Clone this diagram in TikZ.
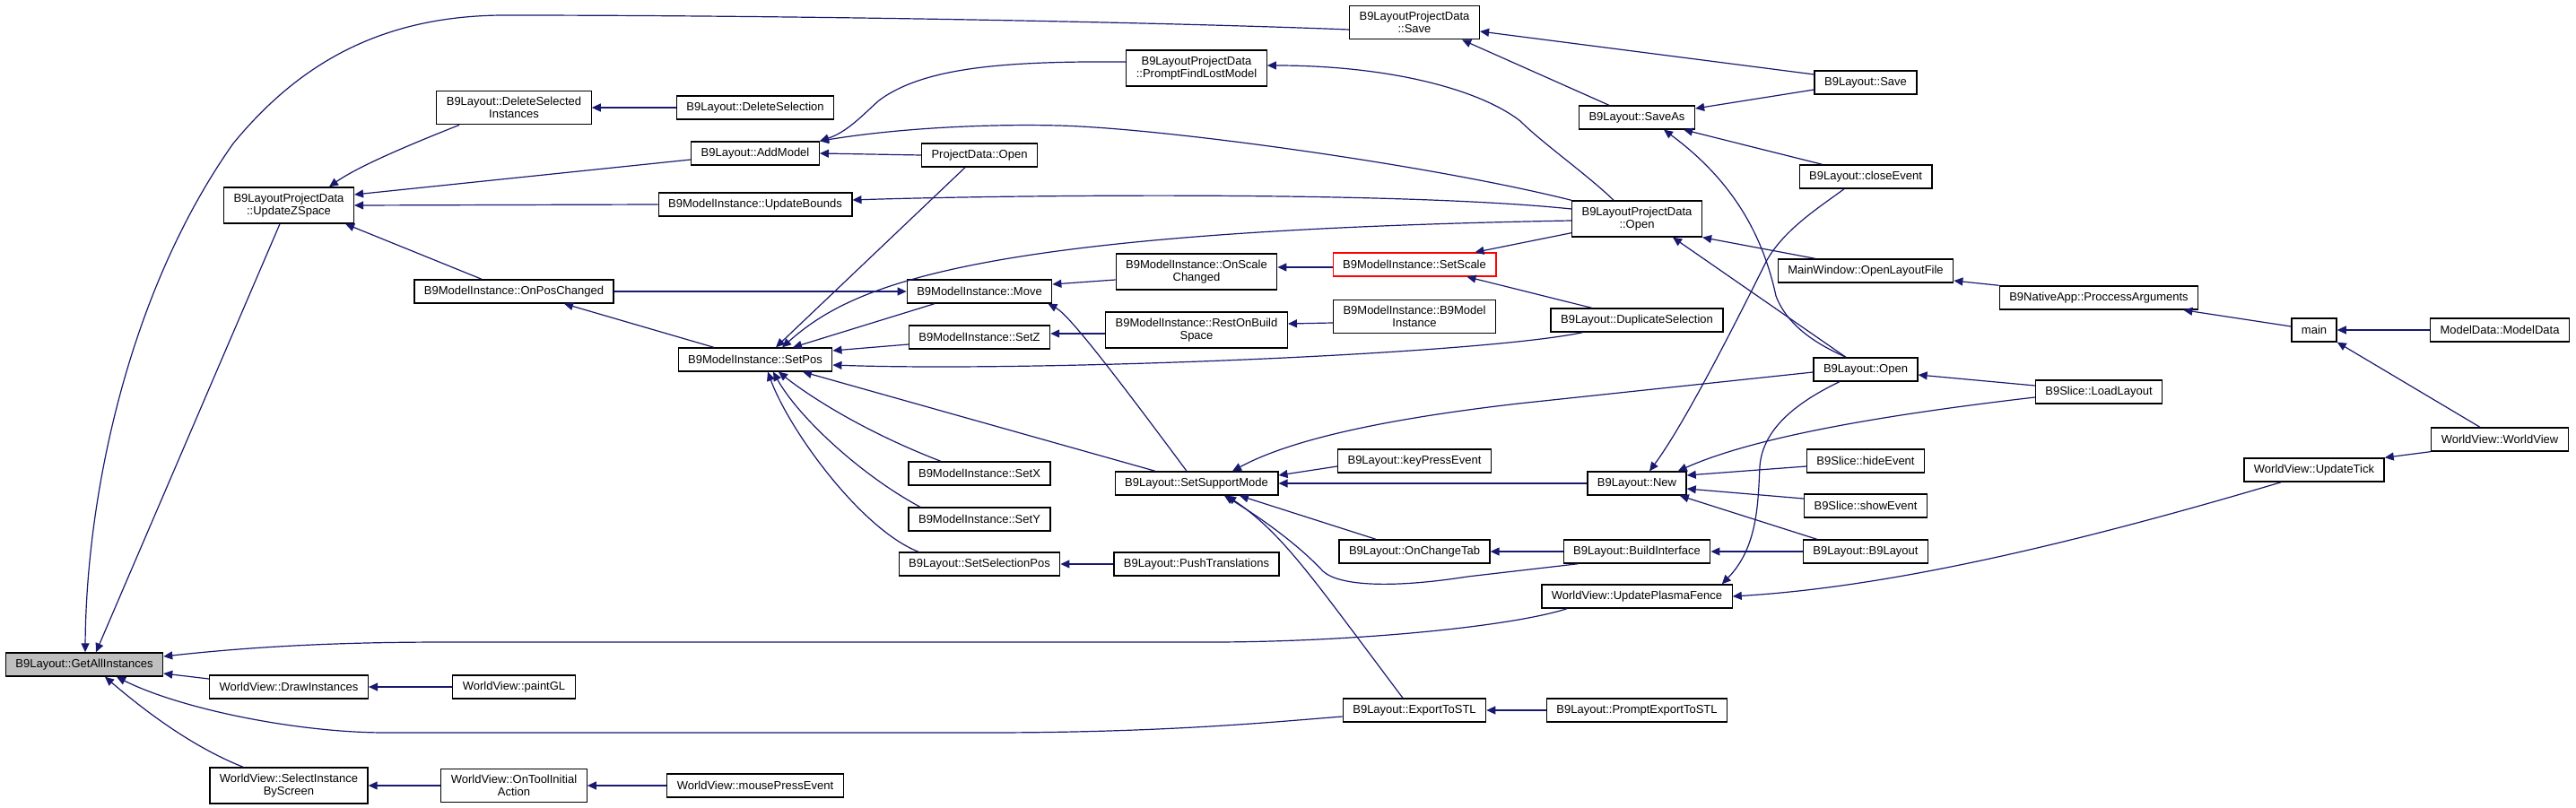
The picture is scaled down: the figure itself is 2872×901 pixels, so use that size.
\documentclass[tikz,border=0pt]{standalone}
\usepackage{fontspec}
\setmainfont{Liberation Sans}
\usetikzlibrary{arrows.meta, calc}
\definecolor{dxEdge}{HTML}{191970}
\definecolor{dxFrame}{HTML}{000000}
\definecolor{dxRoot}{HTML}{BFBFBF}
\definecolor{dxMark}{HTML}{FF0000}
\tikzset{
  fn/.style={
    draw=dxFrame, line width=1.3pt, fill=white, align=center,
    inner xsep=11pt, inner ysep=7pt, minimum height=26pt,
    font=\fontsize{13}{14}\selectfont
  },
  rootfn/.style={fn, fill=dxRoot},
  markfn/.style={fn, draw=dxMark},
  call/.style={{Triangle[length=10pt, width=9pt]}-, line width=1.2pt, draw=dxEdge},
}
\begin{document}
\begin{tikzpicture}[x=1pt, y=-1pt]
  \fill[white] (0,0) rectangle (2872,901);
  \useasboundingbox (0,0) rectangle (2872,901);

  \node[rootfn] (gai) at (94,741) {B9Layout::GetAllInstances};
  \node[fn] (uzs) at (322,229) {B9LayoutProjectData\\::UpdateZSpace};
  \node[fn] (dri) at (322,766) {WorldView::DrawInstances};
  \node[fn] (sibs) at (322,876) {WorldView::SelectInstance\\ByScreen};
  \node[fn] (dsi) at (573,120) {B9Layout::DeleteSelected\\Instances};
  \node[fn] (opc) at (573,325) {B9ModelInstance::OnPosChanged};
  \node[fn] (pgl) at (573,766) {WorldView::paintGL};
  \node[fn] (otia) at (573,876) {WorldView::OnToolInitial\\Action};
  \node[fn] (dsel) at (842,120) {B9Layout::DeleteSelection};
  \node[fn] (addm) at (842,171) {B9Layout::AddModel};
  \node[fn] (ubnd) at (842,228) {B9ModelInstance::UpdateBounds};
  \node[fn] (spos) at (842,401) {B9ModelInstance::SetPos};
  \node[fn] (mpe) at (842,876) {WorldView::mousePressEvent};
  \node[fn] (pdopen) at (1092,173) {ProjectData::Open};
  \node[fn] (move) at (1092,325) {B9ModelInstance::Move};
  \node[fn] (setz) at (1092,376) {B9ModelInstance::SetZ};
  \node[fn] (setx) at (1092,528) {B9ModelInstance::SetX};
  \node[fn] (sety) at (1092,579) {B9ModelInstance::SetY};
  \node[fn] (ssp) at (1092,629) {B9Layout::SetSelectionPos};
  \node[fn] (pflm) at (1334,76) {B9LayoutProjectData\\::PromptFindLostModel};
  \node[fn] (osc) at (1334,303) {B9ModelInstance::OnScale\\Changed};
  \node[fn] (rob) at (1334,368) {B9ModelInstance::RestOnBuild\\Space};
  \node[fn] (ssm) at (1334,539) {B9Layout::SetSupportMode};
  \node[fn] (ptr) at (1334,629) {B9Layout::PushTranslations};
  \node[fn] (pdsave) at (1577,25) {B9LayoutProjectData\\::Save};
  \node[markfn] (sscale) at (1577,295) {B9ModelInstance::SetScale};
  \node[fn] (b9mi) at (1577,353) {B9ModelInstance::B9Model\\Instance};
  \node[fn] (kpe) at (1577,514) {B9Layout::keyPressEvent};
  \node[fn] (oct) at (1577,615) {B9Layout::OnChangeTab};
  \node[fn] (estl) at (1577,792) {B9Layout::ExportToSTL};
  \node[fn] (saveas) at (1825,131) {B9Layout::SaveAs};
  \node[fn] (pdo) at (1825,244) {B9LayoutProjectData\\::Open};
  \node[fn] (dup) at (1825,357) {B9Layout::DuplicateSelection};
  \node[fn] (lnew) at (1825,539) {B9Layout::New};
  \node[fn] (bif) at (1825,615) {B9Layout::BuildInterface};
  \node[fn] (upf) at (1825,665) {WorldView::UpdatePlasmaFence};
  \node[fn] (pestl) at (1825,792) {B9Layout::PromptExportToSTL};
  \node[fn] (lsave) at (2080,92) {B9Layout::Save};
  \node[fn] (close) at (2080,197) {B9Layout::closeEvent};
  \node[fn] (olf) at (2080,302) {MainWindow::OpenLayoutFile};
  \node[fn] (lopen) at (2080,412) {B9Layout::Open};
  \node[fn] (hide) at (2080,514) {B9Slice::hideEvent};
  \node[fn] (show) at (2080,564) {B9Slice::showEvent};
  \node[fn] (b9l) at (2080,615) {B9Layout::B9Layout};
  \node[fn] (pargs) at (2340,332) {B9NativeApp::ProccessArguments};
  \node[fn] (ldl) at (2340,437) {B9Slice::LoadLayout};
  \node[fn] (main) at (2580,368) {main};
  \node[fn] (utick) at (2580,524) {WorldView::UpdateTick};
  \node[fn] (mdata) at (2787,368) {ModelData::ModelData};
  \node[fn] (wvwv) at (2787,490) {WorldView::WorldView};

  \draw[call] ($(gai.north)+(13,0)$) -- ($(uzs.south)+(-10,0)$);
  \draw[call] ($(gai.north)+(1,0)$) .. controls (96,560) and (140,330) .. (260,160)
    .. controls (330,75) and (420,18) .. (560,17)
    .. controls (900,17) and (1300,25) .. ($(pdsave.west)+(0,8)$);
  \draw[call] ($(gai.east)+(0,-9)$) .. controls (300,719) and (400,716) .. (500,716) -- (1350,716)
    .. controls (1500,716) and (1680,700) .. ($(upf.south west)+(29,0)$);
  \draw[call] ($(gai.east)+(0,10)$) -- ($(dri.west)+(0,-9)$);
  \draw[call] ($(gai.south)+(36,0)$) .. controls (200,790) and (330,817) .. (430,817) -- (1100,817)
    .. controls (1300,817) and (1420,805) .. ($(estl.west)+(0,7)$);
  \draw[call] ($(gai.south)+(23,0)$) .. controls (170,800) and (220,835) .. ($(sibs.north)+(-51,0)$);
  \draw[call] (dri.east) -- (pgl.west);
  \draw[call] (sibs.east) -- (otia.west);
  \draw[call] (otia.east) -- (mpe.west);

  \draw[call] ($(uzs.north)+(45,0)$) .. controls (400,185) and (460,160) .. ($(dsi.south)+(-61,0)$);
  \draw[call] ($(uzs.east)+(0,-12)$) -- ($(addm.west)+(0,7)$);
  \draw[call] (uzs.east) -- (ubnd.west);
  \draw[call] ($(uzs.south east)+(-10,0)$) -- ($(opc.north)+(-36,0)$);
  \draw[call] (dsi.east) -- (dsel.west);
  \draw[call] ($(opc.south)+(56,0)$) -- ($(spos.north)+(-46,0)$);
  \draw[call] (move.west) -- (opc.east);

  \draw[call] (addm.east) -- (pdopen.west);
  \draw[call] (addm.north east) .. controls (945,147) and (962,128) .. (980,112)
    .. controls (1030,75) and (1120,68) .. ($(pflm.west)+(0,-7)$);
  \draw[call] (addm.north east) .. controls (1000,143) and (1100,138) .. (1180,140)
    .. controls (1300,143) and (1600,185) .. (pdo.north west);
  \draw[call] ($(ubnd.east)+(0,-5)$) .. controls (1100,218) and (1550,212) .. ($(pdo.west)+(0,-11)$);
  \draw[call] ($(spos.north)+(23,0)$) -- ($(pdopen.south)+(-16,0)$);
  \draw[call] ($(spos.north)+(30,0)$) .. controls (950,318) and (1080,258) .. ($(pdo.west)+(0,2)$);
  \draw[call] ($(spos.north)+(42,0)$) -- ($(move.south)+(-50,0)$);
  \draw[call] ($(spos.east)+(0,-10)$) -- ($(setz.west)+(0,8)$);
  \draw[call] ($(spos.east)+(0,6)$) .. controls (1150,415) and (1650,395) .. ($(dup.south west)+(36,0)$);
  \draw[call] ($(spos.south)+(53,0)$) -- ($(ssm.north)+(-46,0)$);
  \draw[call] ($(spos.south)+(26,0)$) .. controls (900,440) and (960,480) .. ($(setx.north)+(-43,0)$);
  \draw[call] ($(spos.south)+(20,0)$) .. controls (890,465) and (960,530) .. ($(sety.north)+(-66,0)$);
  \draw[call] ($(spos.south)+(14,0)$) .. controls (880,480) and (960,590) .. ($(ssp.north)+(-68,0)$);

  \draw[call] ($(move.east)+(0,-8)$) -- ($(osc.west)+(0,9)$);
  \draw[call] ($(move.south east)+(-5,0)$) .. controls (1190,350) and (1230,400) .. ($(ssm.north)+(-11,0)$);
  \draw[call] ($(setz.east)+(0,-4)$) -- ($(rob.west)+(0,4)$);
  \draw[call] ($(pflm.east)+(0,-3)$) .. controls (1550,73) and (1650,100) .. (1695,135)
    .. controls (1720,160) and (1770,195) .. ($(pdo.north)+(-26,0)$);
  \draw[call] ($(osc.east)+(0,-5)$) -- ($(sscale.west)+(0,3)$);
  \draw[call] ($(rob.east)+(0,-7)$) -- ($(b9mi.west)+(0,7)$);
  \draw[call] (ssp.east) -- (ptr.west);

  \draw[call] ($(sscale.north east)+(-24,0)$) -- ($(pdo.south west)+(0,-5)$);
  \draw[call] ($(sscale.south east)+(-33,0)$) -- ($(dup.north west)+(46,0)$);
  \draw[call] ($(ssm.east)+(0,-9)$) -- ($(kpe.west)+(0,6)$);
  \draw[call] (ssm.east) -- (lnew.west);
  \draw[call] ($(ssm.south)+(48,0)$) -- ($(oct.north)+(-43,0)$);
  \draw[call] ($(ssm.south)+(31,0)$) .. controls (1410,580) and (1450,610) .. (1475,637)
    .. controls (1495,655) and (1560,655) .. (1636,643) -- ($(bif.south west)+(17,0)$);
  \draw[call] ($(ssm.south)+(34,0)$) .. controls (1430,595) and (1460,640) .. ($(estl.north)+(-13,0)$);
  \draw[call] ($(ssm.north)+(40,0)$) .. controls (1430,495) and (1520,470) .. (1693,450) -- ($(lopen.west)+(0,3)$);
  \draw[call] (oct.east) -- (bif.west);
  \draw[call] (estl.east) -- (pestl.west);

  \draw[call] ($(pdsave.east)+(0,10)$) -- ($(lsave.west)+(0,-9)$);
  \draw[call] ($(pdsave.south east)+(-20,0)$) -- ($(saveas.north)+(-31,0)$);
  \draw[call] ($(saveas.east)+(0,-10)$) -- ($(lsave.west)+(0,8)$);
  \draw[call] ($(saveas.south east)+(-13,0)$) -- ($(close.north west)+(26,0)$);
  \draw[call] ($(saveas.south)+(30,0)$) .. controls (1930,200) and (1965,260) .. (1980,330)
    .. controls (1995,370) and (2040,390) .. ($(lopen.north)+(-22,0)$);
  \draw[call] (pdo.south east) -- ($(olf.north west)+(42,0)$);
  \draw[call] ($(pdo.south)+(40,0)$) -- ($(lopen.north)+(-22,0)$);
  \draw[call] ($(lnew.north)+(14,0)$) .. controls (1880,470) and (1940,350) .. (1970,290)
    .. controls (1990,255) and (2030,230) .. ($(close.south)+(-24,0)$);
  \draw[call] ($(lnew.east)+(0,-9)$) -- ($(hide.west)+(0,6)$);
  \draw[call] ($(lnew.east)+(0,6)$) -- ($(show.west)+(0,-8)$);
  \draw[call] ($(lnew.south east)+(-8,0)$) -- ($(b9l.north west)+(16,0)$);
  \draw[call] ($(lnew.north east)+(-10,0)$) .. controls (1950,490) and (2080,465) .. ($(ldl.west)+(0,6)$);
  \draw[call] (bif.east) -- (b9l.west);
  \draw[call] ($(upf.north east)+(-12,0)$) .. controls (1960,610) and (1960,560) .. (1962,520)
    .. controls (1965,480) and (2000,450) .. ($(lopen.south)+(-29,0)$);
  \draw[call] (upf.east) .. controls (2100,655) and (2300,610) .. ($(utick.south west)+(42,0)$);

  \draw[call] ($(lopen.east)+(0,6)$) -- ($(ldl.west)+(0,-7)$);
  \draw[call] ($(olf.east)+(0,11)$) -- (pargs.north west);
  \draw[call] ($(pargs.south east)+(-17,0)$) -- ($(main.west)+(0,-4)$);
  \draw[call] (main.east) -- (mdata.west);
  \draw[call] (main.south east) -- ($(wvwv.north)+(-22,0)$);
  \draw[call] (utick.north east) -- (wvwv.south west);
\end{tikzpicture}
\end{document}
